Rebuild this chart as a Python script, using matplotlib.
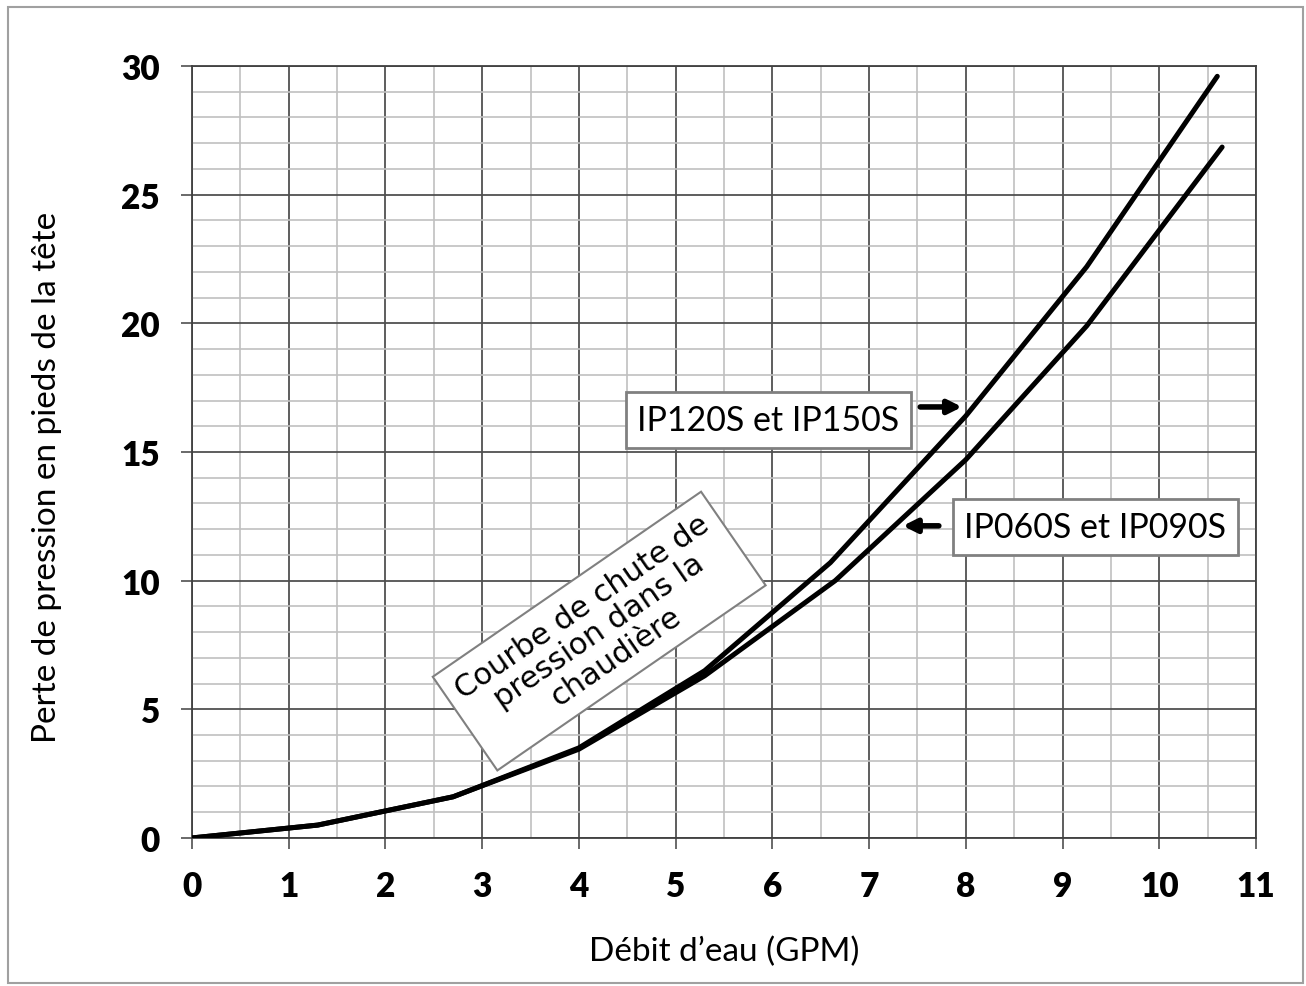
import matplotlib
matplotlib.use("Agg")
import matplotlib.pyplot as plt
from matplotlib.patches import Rectangle
from matplotlib.ticker import MultipleLocator

# courbes de chute de pression
gpm_120 = [0, 1.3, 2.7, 4.0, 5.3, 6.6, 8.0, 9.25, 10.6]
perte_120 = [0, 0.5, 1.6, 3.5, 6.5, 10.7, 16.4, 22.2, 29.6]
gpm_060 = [0, 1.3, 2.7, 4.0, 5.3, 6.65, 8.0, 9.25, 10.65]
perte_060 = [0, 0.5, 1.6, 3.45, 6.3, 10.0, 14.7, 19.9, 26.85]

x_ticks = list(range(0, 12))
y_ticks = [0, 5, 10, 15, 20, 25, 30]

label_120 = "IP120S et IP150S"
label_060 = "IP060S et IP090S"
note = "Courbe de chute de\npression dans la\nchaudière"

fig = plt.figure(figsize=(13.06, 9.87), dpi=100)
ax = fig.add_axes([0.147, 0.15, 0.8147, 0.7821])

ax.set_xlim(0, 11)
ax.set_ylim(0, 30)
ax.set_xticks(x_ticks)
ax.set_yticks(y_ticks)
ax.xaxis.set_minor_locator(MultipleLocator(0.5))
ax.yaxis.set_minor_locator(MultipleLocator(1))
ax.grid(which="minor", color="#c0c0c0", linewidth=1.2, zorder=0)
ax.grid(which="major", color="#505050", linewidth=1.3, zorder=0.5)
ax.set_axisbelow(True)
ax.tick_params(which="minor", length=0)
ax.tick_params(which="major", length=8, width=1.2, color="#505050", pad=15)
for s in ax.spines.values():
    s.set_color("#404040")
    s.set_linewidth(1.3)

for lab in ax.get_xticklabels() + ax.get_yticklabels():
    lab.set_fontfamily("Lato")
    lab.set_fontweight("heavy")
    lab.set_fontsize(24)

ax.plot(gpm_120, perte_120, color="black", linewidth=3.6, solid_capstyle="round",
        solid_joinstyle="round", zorder=3)
ax.plot(gpm_060, perte_060, color="black", linewidth=3.6, solid_capstyle="round",
        solid_joinstyle="round", zorder=3)

ax.set_xlabel("Débit d\u2019eau (GPM)", fontfamily="Lato", fontsize=24, labelpad=24)
ax.set_ylabel("Perte de pression en pieds de la tête", fontfamily="Lato", fontsize=24)
ax.yaxis.set_label_coords(-0.122, 0.468)

box = dict(boxstyle="square,pad=0.35", facecolor="white", edgecolor="#808080", linewidth=2)
ax.text(5.96, 16.25, label_120, fontfamily="Lato", fontsize=24.5, ha="center", va="center",
        bbox=box, zorder=4)
ax.annotate("", xy=(7.99, 16.75), xytext=(7.5, 16.75),
            arrowprops=dict(arrowstyle="-|>", color="black", lw=4, mutation_scale=20), zorder=4)
ax.text(9.34, 12.1, label_060, fontfamily="Lato", fontsize=24.5, ha="center", va="center",
        bbox=box, zorder=4)
ax.annotate("", xy=(7.32, 12.13), xytext=(7.75, 12.13),
            arrowprops=dict(arrowstyle="-|>", color="black", lw=4, mutation_scale=20), zorder=4)

ax.text(4.21, 8.04, note, fontfamily="DejaVu Sans", fontsize=22, ha="center", va="center",
        multialignment="center", rotation=34.6, rotation_mode="anchor", linespacing=1.05,
        bbox=dict(boxstyle="square,pad=0.4", facecolor="white", edgecolor="#808080",
                  linewidth=1.5), zorder=4)

fig.patches.append(Rectangle((0.006, 0.003), 0.992, 0.989, transform=fig.transFigure,
                             fill=False, edgecolor="#a0a0a0", linewidth=1.5))

fig.savefig("out.png", dpi=100)
